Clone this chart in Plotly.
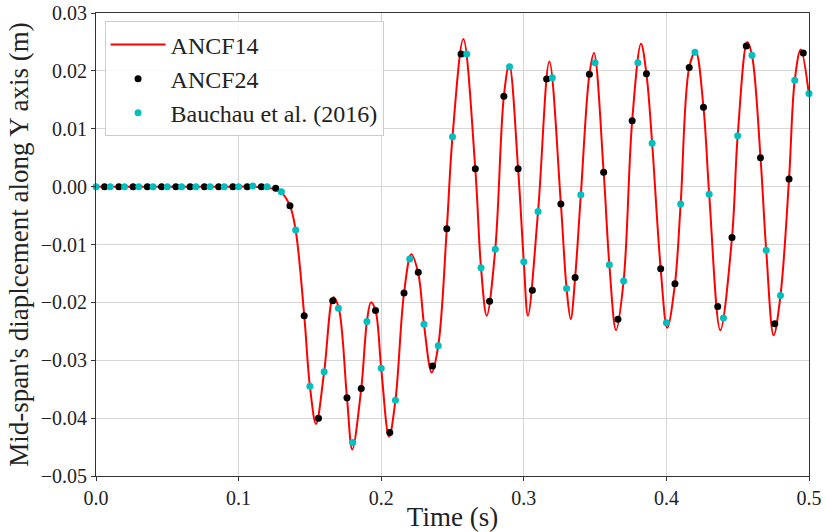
import plotly.graph_objects as go

# ANCF14 (red continuous curve) readings
red_t = [0.000, 0.050, 0.100, 0.110, 0.116, 0.120, 0.126, 0.130, 0.136, 0.140,
         0.146, 0.150, 0.1543, 0.160, 0.1664, 0.170, 0.176, 0.1797, 0.186, 0.190,
         0.1928, 0.196, 0.200, 0.2055, 0.210, 0.216, 0.2211, 0.226, 0.230, 0.2354,
         0.240, 0.246, 0.250, 0.2576, 0.266, 0.270, 0.2740, 0.280, 0.286, 0.2898,
         0.296, 0.300, 0.3029, 0.310, 0.3179, 0.326, 0.330, 0.3329, 0.336, 0.340,
         0.346, 0.3492, 0.356, 0.360, 0.3647, 0.370, 0.376, 0.3822, 0.386, 0.390,
         0.396, 0.4006, 0.406, 0.410, 0.416, 0.4205, 0.426, 0.430, 0.4378, 0.446,
         0.450, 0.4567, 0.460, 0.466, 0.470, 0.4752, 0.480, 0.486, 0.490, 0.4942,
         0.500]
red_v = [0.0000, 0.0000, 0.0000, 0.0000, -0.0001, -0.0002, -0.0005, -0.0010, -0.0033, -0.0075,
         -0.0222, -0.0345, -0.0410, -0.0320, -0.0191, -0.0207, -0.0365, -0.0454, -0.0349, -0.0233,
         -0.0200, -0.0214, -0.0314, -0.0432, -0.0369, -0.0184, -0.0117, -0.0150, -0.0238, -0.0321,
         -0.0275, -0.0073, 0.0086, 0.0255, 0.0030, -0.0140, -0.0223, -0.0108, 0.0156, 0.0211,
         0.0031, -0.0130, -0.0223, -0.0043, 0.0216, -0.0030, -0.0176, -0.0229, -0.0157, -0.0014,
         0.0194, 0.0231, 0.0025, -0.0135, -0.0248, -0.0163, 0.0114, 0.0247, 0.0195, 0.0075,
         -0.0142, -0.0244, -0.0168, -0.0030, 0.0206, 0.0234, 0.0137, -0.0013, -0.0248, -0.0088,
         0.0088, 0.0250, 0.0227, 0.0050, -0.0110, -0.0257, -0.0188, 0.0013, 0.0184, 0.0237,
         0.0158]

# ANCF24 (black markers)
black_t = [0.006, 0.016, 0.026, 0.036, 0.046, 0.056, 0.066, 0.076, 0.086, 0.096,
           0.106, 0.116, 0.126, 0.136, 0.146, 0.156, 0.166, 0.176, 0.186, 0.196,
           0.206, 0.216, 0.226, 0.236, 0.246, 0.256, 0.266, 0.276, 0.286, 0.296,
           0.306, 0.316, 0.326, 0.336, 0.346, 0.356, 0.366, 0.376, 0.386, 0.396,
           0.406, 0.416, 0.426, 0.436, 0.446, 0.456, 0.466, 0.476, 0.486, 0.496]
black_v = [0.0, 0.0, 0.0, 0.0, 0.0, 0.0, 0.0, 0.0, 0.0, 0.0,
           0.0, 0.0, -0.0003, -0.0033, -0.0223, -0.0400, -0.0197, -0.0365, -0.0349, -0.0214,
           -0.0425, -0.0184, -0.0148, -0.0310, -0.0073, 0.0229, 0.0031, -0.0198, 0.0156, 0.0031,
           -0.0179, 0.0186, -0.0030, -0.0157, 0.0194, 0.0025, -0.0229, 0.0114, 0.0195, -0.0142,
           -0.0168, 0.0206, 0.0137, -0.0207, -0.0088, 0.0243, 0.0050, -0.0237, 0.0013, 0.0231]

# Bauchau et al. (2016) (cyan markers)
cyan_t = [0.00, 0.01, 0.02, 0.03, 0.04, 0.05, 0.06, 0.07, 0.08, 0.09,
          0.10, 0.11, 0.12, 0.13, 0.14, 0.15, 0.16, 0.17, 0.18, 0.19,
          0.20, 0.21, 0.22, 0.23, 0.24, 0.25, 0.26, 0.27, 0.28, 0.29,
          0.30, 0.31, 0.32, 0.33, 0.34, 0.35, 0.36, 0.37, 0.38, 0.39,
          0.40, 0.41, 0.42, 0.43, 0.44, 0.45, 0.46, 0.47, 0.48, 0.49, 0.50]
cyan_v = [0.0, 0.0, 0.0, 0.0, 0.0, 0.0, 0.0, 0.0, 0.0, 0.0,
          0.0, 0.0001, 0.0, -0.0009, -0.0075, -0.0345, -0.0320, -0.0210, -0.0442, -0.0233,
          -0.0314, -0.0369, -0.0125, -0.0238, -0.0275, 0.0086, 0.0229, -0.0140, -0.0108, 0.0207,
          -0.0130, -0.0043, 0.0188, -0.0176, -0.0014, 0.0214, -0.0135, -0.0163, 0.0214, 0.0075,
          -0.0235, -0.0030, 0.0232, -0.0013, -0.0227, 0.0088, 0.0227, -0.0110, -0.0188, 0.0184,
          0.0161]

x_ticks = [0.0, 0.1, 0.2, 0.3, 0.4, 0.5]
y_ticks = [-0.05, -0.04, -0.03, -0.02, -0.01, 0.00, 0.01, 0.02, 0.03]

FONT = "Liberation Serif"

fig = go.Figure()
fig.add_trace(go.Scatter(x=red_t, y=red_v, mode="lines", name="ANCF14",
                         line=dict(color="#ff0000", width=2, shape="spline", smoothing=1.0)))
fig.add_trace(go.Scatter(x=black_t, y=black_v, mode="markers", name="ANCF24",
                         marker=dict(color="#000000", size=7), cliponaxis=False))
fig.add_trace(go.Scatter(x=cyan_t, y=cyan_v, mode="markers", name="Bauchau et al. (2016)",
                         marker=dict(color="#00bfbf", size=7), cliponaxis=False))

axis_common = dict(showgrid=True, gridcolor="#d6d6d6", gridwidth=1,
                   showline=True, linecolor="#333333", linewidth=1, mirror=True,
                   ticks="outside", ticklen=4, tickcolor="#333333",
                   tickfont=dict(family=FONT, size=20, color="#222"),
                   zeroline=False, automargin=False)

fig.update_layout(
    width=826, height=532,
    margin=dict(l=96, r=17, t=13, b=56),
    paper_bgcolor="white", plot_bgcolor="white",
    xaxis=dict(range=[0, 0.5], tickvals=x_ticks, tickformat=".1f",
               title=dict(text="Time (s)", font=dict(family=FONT, size=27, color="#222"), standoff=2),
               **axis_common),
    yaxis=dict(range=[-0.05, 0.03], tickvals=y_ticks, tickformat=".2f",
               title=dict(text="Mid-span's diaplcement along Y axis (m)",
                          font=dict(family=FONT, size=27, color="#222"), standoff=4),
               **axis_common),
    legend=dict(x=0.012, y=0.982, xanchor="left", yanchor="top",
                bgcolor="rgba(255,255,255,0.85)", bordercolor="#cccccc", borderwidth=1,
                font=dict(family=FONT, size=24, color="#222"),
                itemwidth=55, tracegroupgap=0),
    showlegend=True,
)

fig.write_html("out.html")
